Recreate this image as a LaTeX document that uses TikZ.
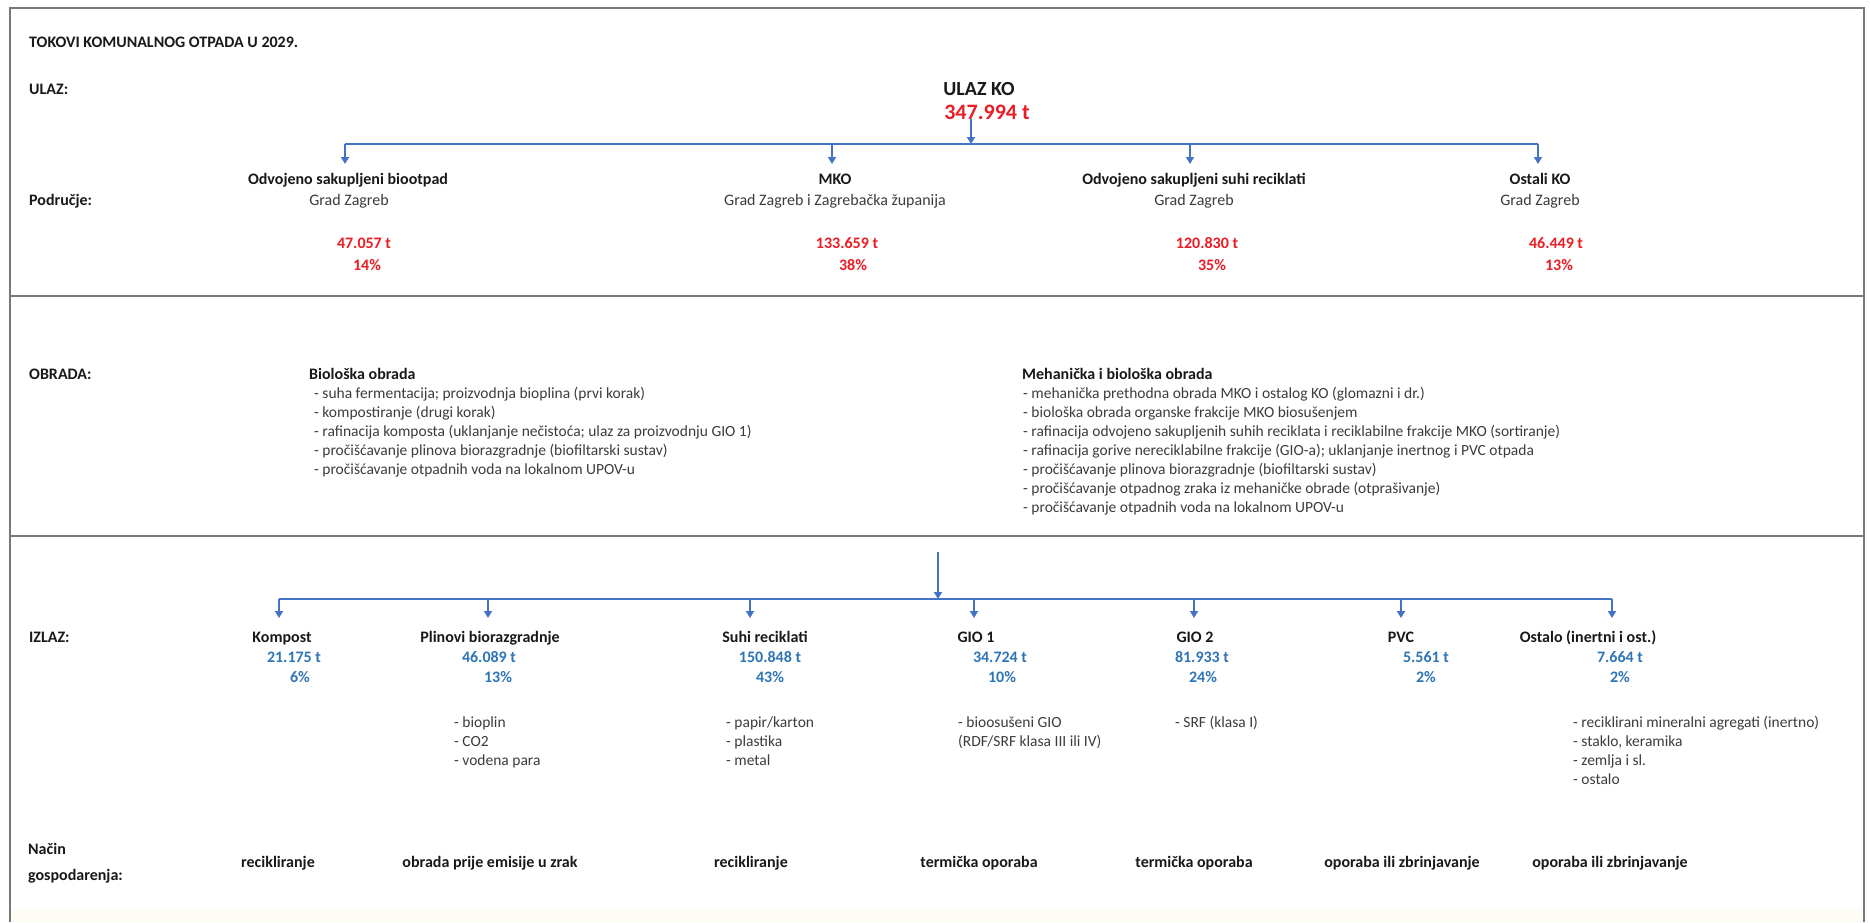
\documentclass[tikz,border=0pt]{standalone}
\usepackage{fontspec}
\setmainfont{Carlito}
\usetikzlibrary{arrows.meta}
\definecolor{redv}{RGB}{235,28,36}
\definecolor{bluev}{RGB}{46,117,182}
\definecolor{arr}{RGB}{68,114,196}
\definecolor{framec}{RGB}{120,120,120}
\definecolor{bottomc}{RGB}{254,253,245}
\definecolor{txt}{RGB}{25,25,25}
\definecolor{subtxt}{RGB}{60,60,60}
\tikzset{
  lbl/.style={anchor=base west, inner sep=0pt, font=\fontsize{16}{19}\selectfont\bfseries, text=txt},
  ttl/.style={anchor=base, inner sep=0pt, font=\fontsize{16}{19}\selectfont\bfseries, text=txt},
  sub/.style={anchor=base, inner sep=0pt, font=\fontsize{16}{19}\selectfont, text=subtxt},
  amtr/.style={anchor=base, inner sep=0pt, font=\fontsize{16}{19}\selectfont\bfseries, text=redv},
  amtb/.style={anchor=base, inner sep=0pt, font=\fontsize{16}{19}\selectfont\bfseries, text=bluev},
  bul/.style={anchor=base west, inner sep=0pt, font=\fontsize{15.5}{19}\selectfont, text=subtxt},
  flow/.style={draw=arr, line width=2pt},
  flowarr/.style={draw=arr, line width=2pt, -{Triangle[width=8pt,length=7pt]}},
  rulel/.style={draw=framec, line width=2.5pt},
}
\begin{document}
\begin{tikzpicture}[x=1pt,y=-1pt]
\useasboundingbox (0,0) rectangle (1870,922);
\fill[white] (0,0) rectangle (1870,922);
% frame and dividers
\fill[bottomc] (10,908) rectangle (1864,922);
\draw[rulel] (10,922) -- (10,8) -- (1864,8) -- (1864,922);
\draw[rulel] (10,296) -- (1864,296);
\draw[rulel] (10,536) -- (1864,536);

% ---------- ULAZ ----------
\node[lbl] (title) at (29,47) {TOKOVI KOMUNALNOG OTPADA U 2029.};
\node[lbl] (ulaz) at (29,94) {ULAZ:};
\node[lbl] (podr) at (29,205) {Područje:};
\node[anchor=base, inner sep=0pt, font=\fontsize{20}{24}\selectfont\bfseries, text=txt] (ulazko) at (979,95) {ULAZ KO};
\node[anchor=base, inner sep=0pt, font=\fontsize{22}{26}\selectfont\bfseries, text=redv] (tot) at (987,119) {347.994 t};

\coordinate (inJ) at (971,144);
\coordinate (inL) at (345,144);
\coordinate (inR) at (1538,144);
\coordinate (ia1) at (345,144); \coordinate (ie1) at (345,164);
\coordinate (ia2) at (832,144); \coordinate (ie2) at (832,164);
\coordinate (ia3) at (1190,144); \coordinate (ie3) at (1190,164);
\coordinate (ia4) at (1538,144); \coordinate (ie4) at (1538,164);
\draw[flowarr] (inJ |- tot.south) -- (inJ);
\draw[flow] (inL) -- (inR);
\foreach \i in {1,2,3,4} {\draw[flowarr] (ia\i) -- (ie\i);}

\node[ttl] (it1) at (348,184) {Odvojeno sakupljeni biootpad};
\node[sub] (is1) at (349,205) {Grad Zagreb};
\node[amtr] (iq1) at (364,248) {47.057 t};
\node[amtr] (ip1) at (367,270) {14\%};

\node[ttl] (it2) at (835,184) {MKO};
\node[sub] (is2) at (835,205) {Grad Zagreb i Zagrebačka županija};
\node[amtr] (iq2) at (847,248) {133.659 t};
\node[amtr] (ip2) at (853,270) {38\%};

\node[ttl] (it3) at (1194,184) {Odvojeno sakupljeni suhi reciklati};
\node[sub] (is3) at (1194,205) {Grad Zagreb};
\node[amtr] (iq3) at (1207,248) {120.830 t};
\node[amtr] (ip3) at (1212,270) {35\%};

\node[ttl] (it4) at (1540,184) {Ostali KO};
\node[sub] (is4) at (1540,205) {Grad Zagreb};
\node[amtr] (iq4) at (1556,248) {46.449 t};
\node[amtr] (ip4) at (1559,270) {13\%};

% ---------- OBRADA ----------
\node[lbl] (obrada) at (29,379) {OBRADA:};
\node[lbl] (bio) at (309,379) {Biološka obrada};
\node[bul] (b1) at (314,398) {- suha fermentacija; proizvodnja bioplina (prvi korak)};
\node[bul] (b2) at (314,417) {- kompostiranje (drugi korak)};
\node[bul] (b3) at (314,436) {- rafinacija komposta (uklanjanje nečistoća; ulaz za proizvodnju GIO 1)};
\node[bul] (b4) at (314,455) {- pročišćavanje plinova biorazgradnje (biofiltarski sustav)};
\node[bul] (b5) at (314,474) {- pročišćavanje otpadnih voda na lokalnom UPOV-u};

\node[lbl] (meh) at (1022,379) {Mehanička i biološka obrada};
\node[bul] (m1) at (1023,398) {- mehanička prethodna obrada MKO i ostalog KO (glomazni i dr.)};
\node[bul] (m2) at (1023,417) {- biološka obrada organske frakcije MKO biosušenjem};
\node[bul] (m3) at (1023,436) {- rafinacija odvojeno sakupljenih suhih reciklata i reciklabilne frakcije MKO (sortiranje)};
\node[bul] (m4) at (1023,455) {- rafinacija gorive nereciklabilne frakcije (GIO-a); uklanjanje inertnog i PVC otpada};
\node[bul] (m5) at (1023,474) {- pročišćavanje plinova biorazgradnje (biofiltarski sustav)};
\node[bul] (m6) at (1023,493) {- pročišćavanje otpadnog zraka iz mehaničke obrade (otprašivanje)};
\node[bul] (m7) at (1023,512) {- pročišćavanje otpadnih voda na lokalnom UPOV-u};

% ---------- IZLAZ ----------
\coordinate (oS) at (938,552);
\coordinate (oJ) at (938,599);
\coordinate (oL) at (279,599);
\coordinate (oR) at (1612,599);
\draw[flowarr] (oS) -- (oJ);
\draw[flow] (oL) -- (oR);
\coordinate (oa1) at (279,599);  \coordinate (oe1) at (279,618);
\coordinate (oa2) at (488,599);  \coordinate (oe2) at (488,618);
\coordinate (oa3) at (750,599);  \coordinate (oe3) at (750,618);
\coordinate (oa4) at (974,599);  \coordinate (oe4) at (974,618);
\coordinate (oa5) at (1194,599); \coordinate (oe5) at (1194,618);
\coordinate (oa6) at (1401,599); \coordinate (oe6) at (1401,618);
\coordinate (oa7) at (1612,599); \coordinate (oe7) at (1612,618);
\foreach \i in {1,...,7} {\draw[flowarr] (oa\i) -- (oe\i);}

\node[lbl] (izlaz) at (29,642) {IZLAZ:};

\node[ttl] (ot1) at (282,642) {Kompost};
\node[amtb] (oq1) at (294,662) {21.175 t};
\node[amtb] (op1) at (300,682) {6\%};

\node[ttl] (ot2) at (490,642) {Plinovi biorazgradnje};
\node[amtb] (oq2) at (489,662) {46.089 t};
\node[amtb] (op2) at (498,682) {13\%};
\node[bul] (ob21) at (454,727) {- bioplin};
\node[bul] (ob22) at (454,746) {- CO2};
\node[bul] (ob23) at (454,765) {- vodena para};

\node[ttl] (ot3) at (765,642) {Suhi reciklati};
\node[amtb] (oq3) at (770,662) {150.848 t};
\node[amtb] (op3) at (770,682) {43\%};
\node[bul] (ob31) at (726,727) {- papir/karton};
\node[bul] (ob32) at (726,746) {- plastika};
\node[bul] (ob33) at (726,765) {- metal};

\node[ttl] (ot4) at (976,642) {GIO 1};
\node[amtb] (oq4) at (1000,662) {34.724 t};
\node[amtb] (op4) at (1002,682) {10\%};
\node[bul] (ob41) at (958,727) {- bioosušeni GIO};
\node[bul] (ob42) at (958,746) {(RDF/SRF klasa III ili IV)};

\node[ttl] (ot5) at (1195,642) {GIO 2};
\node[amtb] (oq5) at (1202,662) {81.933 t};
\node[amtb] (op5) at (1203,682) {24\%};
\node[bul] (ob51) at (1175,727) {- SRF (klasa I)};

\node[ttl] (ot6) at (1401,642) {PVC};
\node[amtb] (oq6) at (1426,662) {5.561 t};
\node[amtb] (op6) at (1426,682) {2\%};

\node[ttl] (ot7) at (1588,642) {Ostalo (inertni i ost.)};
\node[amtb] (oq7) at (1620,662) {7.664 t};
\node[amtb] (op7) at (1620,682) {2\%};
\node[bul] (ob71) at (1573,727) {- reciklirani mineralni agregati (inertno)};
\node[bul] (ob72) at (1573,746) {- staklo, keramika};
\node[bul] (ob73) at (1573,765) {- zemlja i sl.};
\node[bul] (ob74) at (1573,784) {- ostalo};

% ---------- Nacin gospodarenja ----------
\node[lbl] (nacin) at (28,854) {Način};
\node[lbl] (gosp) at (28,880) {gospodarenja:};
\node[ttl] (g1) at (278,867) {recikliranje};
\node[ttl] (g2) at (490,867) {obrada prije emisije u zrak};
\node[ttl] (g3) at (751,867) {recikliranje};
\node[ttl] (g4) at (979,867) {termička oporaba};
\node[ttl] (g5) at (1194,867) {termička oporaba};
\node[ttl] (g6) at (1402,867) {oporaba ili zbrinjavanje};
\node[ttl] (g7) at (1610,867) {oporaba ili zbrinjavanje};
\end{tikzpicture}
\end{document}
